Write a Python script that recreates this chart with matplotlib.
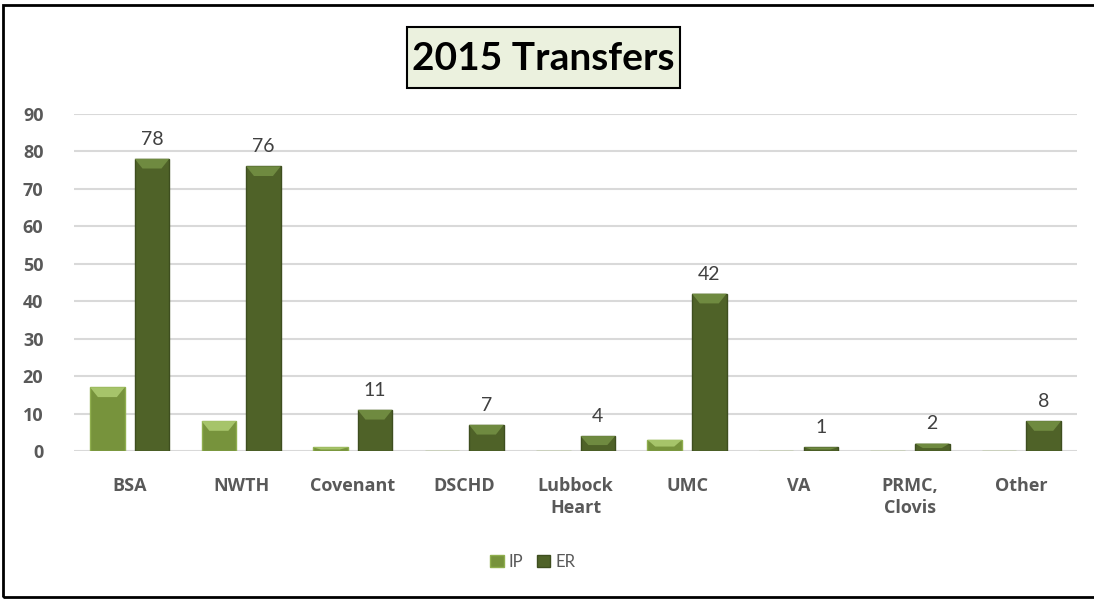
import matplotlib
matplotlib.use("Agg")
import matplotlib.pyplot as plt
import numpy as np
from matplotlib.patches import Rectangle

plt.rcParams["font.family"] = ["Lato", "DejaVu Sans"]

# Data
categories = ["BSA", "NWTH", "Covenant", "DSCHD", "Lubbock\nHeart", "UMC", "VA", "PRMC,\nClovis", "Other"]
ip_values = [17, 8, 1, 0, 0, 3, 0, 0, 0]
er_values = [78, 76, 11, 7, 4, 42, 1, 2, 8]
yticks = [0, 10, 20, 30, 40, 50, 60, 70, 80, 90]

IP_COLOR = "#77933C"
ER_COLOR = "#4F6228"
TEXT_GRAY = "#595959"

fig = plt.figure(figsize=(10.94, 5.99), dpi=100)
ax = fig.add_axes([0.0676, 0.247, 0.917, 0.563])

x = np.arange(len(categories))
width = 0.31
off = 0.2

ax.bar(x - off, ip_values, width=width, color=IP_COLOR, edgecolor="#8FAE4E", linewidth=1.0, zorder=3, label="IP")
ax.bar(x + off, er_values, width=width, color=ER_COLOR, edgecolor="#3E4E1F", linewidth=1.0, zorder=3, label="ER")

# bevel highlight on top of each bar
for xs, vals, c in [(x - off, ip_values, "#A6C46A"), (x + off, er_values, "#6F8A40")]:
    for xi, v in zip(xs, vals):
        if v > 0:
            cap = min(v * 0.6, 2.6)
            ax.fill([xi - width / 2, xi + width / 2, xi + width / 2 - 0.07, xi - width / 2 + 0.07],
                    [v, v, v - cap, v - cap], color=c, zorder=4, lw=0)

for xi, v in zip(x + off, er_values):
    ax.annotate(str(v), xy=(xi, v), xytext=(0, 8), textcoords="offset points",
                ha="center", va="bottom", fontsize=14, color="#404040")

ax.set_xlim(-0.5, len(categories) - 0.5)
ax.set_ylim(0, 90)
ax.set_yticks(yticks)
ax.set_xticks(x)
ax.set_xticklabels(categories, fontsize=13, fontweight="bold", color=TEXT_GRAY, va="top",
                   linespacing=1.25, family=["Open Sans", "DejaVu Sans"])
ax.tick_params(axis="x", length=0, pad=19)
ax.tick_params(axis="y", length=0, pad=22, labelsize=13, labelcolor=TEXT_GRAY)
for lab in ax.get_yticklabels():
    lab.set_fontweight("bold")
    lab.set_family(["Open Sans", "DejaVu Sans"])
ax.grid(True, axis="y", color="#D9D9D9", linewidth=1.5, zorder=0)
for s in ax.spines.values():
    s.set_visible(False)

fig.legend(loc="center", bbox_to_anchor=(0.487, 0.062), ncol=2, frameon=False,
           fontsize=12, handlelength=0.8, handleheight=0.8, handletextpad=0.3,
           columnspacing=0.8, labelcolor=TEXT_GRAY)

# title box
fig.patches.append(Rectangle((0.372, 0.853), 0.2496, 0.102, transform=fig.transFigure,
                             facecolor="#EBF1DE", edgecolor="black", linewidth=1.5))
fig.text(0.4968, 0.903, "2015 Transfers", ha="center", va="center", fontsize=28, fontweight="bold",
         color="black")

# outer border
fig.patches.append(Rectangle((0.003, 0.004), 1.2, 0.987, transform=fig.transFigure,
                             fill=False, edgecolor="black", linewidth=2))

fig.savefig("out.png", dpi=100)
